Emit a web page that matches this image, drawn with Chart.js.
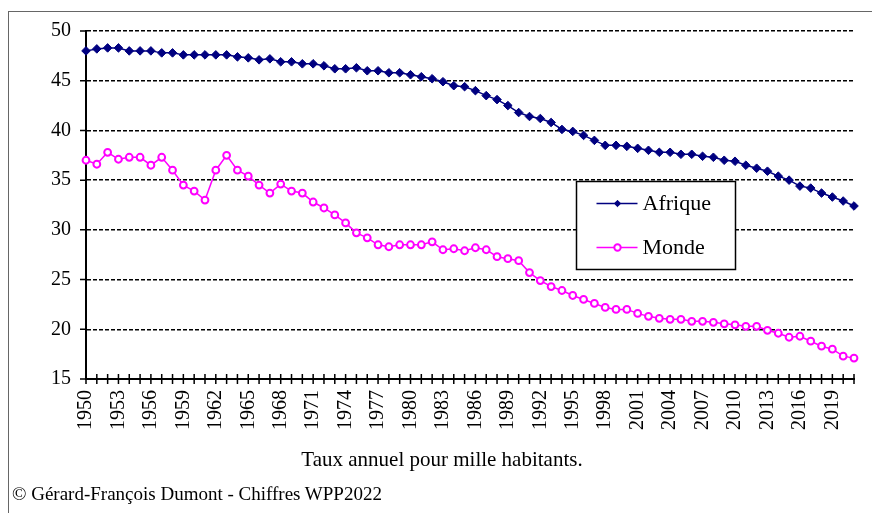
<!DOCTYPE html>
<html lang="fr">
<head>
<meta charset="utf-8">
<title>Natalité — Afrique / Monde</title>
<script src="https://cdn.jsdelivr.net/npm/chart.js@4/dist/chart.umd.min.js"></script>
<style>
  body { margin: 0; background: #fff; }
  #wrap { position: relative; width: 872px; height: 513px; overflow: hidden; font-family: 'Liberation Serif', 'Times New Roman', serif; }
  #frame { position: absolute; left: 8px; top: 11px; width: 880px; height: 520px; border-top: 1px solid #666; border-left: 1px solid #666; }
  #chart { position: absolute; left: 0; top: 0; }
  #axis-title { position: absolute; left: 442px; top: 449px; transform: translateX(-50%); font-size: 21px; line-height: 21px; white-space: nowrap; color: #000; }
  #credit { position: absolute; left: 12px; top: 484px; font-size: 19px; line-height: 19px; white-space: nowrap; color: #000; }
</style>
</head>
<body>
<div id="wrap">
  <div id="frame"></div>
  <canvas id="chart" width="872" height="513"></canvas>
  <div id="axis-title">Taux annuel pour mille habitants.</div>
  <div id="credit">© Gérard-François Dumont - Chiffres WPP2022</div>
</div>
<script>
// ── Data ──────────────────────────────────────────────────────────────────────
const YEARS = [
  '1950','1951','1952','1953','1954','1955','1956','1957','1958','1959',
  '1960','1961','1962','1963','1964','1965','1966','1967','1968','1969',
  '1970','1971','1972','1973','1974','1975','1976','1977','1978','1979',
  '1980','1981','1982','1983','1984','1985','1986','1987','1988','1989',
  '1990','1991','1992','1993','1994','1995','1996','1997','1998','1999',
  '2000','2001','2002','2003','2004','2005','2006','2007','2008','2009',
  '2010','2011','2012','2013','2014','2015','2016','2017','2018','2019',
  '2020','2021'
];

const AFRIQUE = [
  48.0, 48.2, 48.3, 48.3, 48.0, 48.0, 48.0, 47.8, 47.8, 47.6,
  47.6, 47.6, 47.6, 47.6, 47.4, 47.3, 47.1, 47.2, 46.9, 46.9,
  46.7, 46.7, 46.5, 46.2, 46.2, 46.3, 46.0, 46.0, 45.8, 45.8,
  45.6, 45.4, 45.2, 44.9, 44.5, 44.4, 44.0, 43.5, 43.1, 42.5,
  41.8, 41.4, 41.2, 40.8, 40.1, 39.9, 39.5, 39.0, 38.5, 38.5,
  38.4, 38.2, 38.0, 37.8, 37.8, 37.6, 37.6, 37.4, 37.3, 37.0,
  36.9, 36.5, 36.2, 35.9, 35.4, 35.0, 34.4, 34.2, 33.7, 33.3,
  32.9, 32.4
];

const MONDE = [
  37.0, 36.6, 37.8, 37.1, 37.3, 37.3, 36.5, 37.3, 36.0, 34.5,
  33.9, 33.0, 36.0, 37.5, 36.0, 35.4, 34.5, 33.7, 34.6, 33.9,
  33.7, 32.8, 32.2, 31.5, 30.7, 29.7, 29.2, 28.5, 28.3, 28.5,
  28.5, 28.5, 28.8, 28.0, 28.1, 27.9, 28.2, 28.0, 27.3, 27.1,
  26.9, 25.7, 24.9, 24.3, 23.9, 23.4, 23.0, 22.6, 22.2, 22.0,
  22.0, 21.6, 21.3, 21.1, 21.0, 21.0, 20.8, 20.8, 20.7, 20.55,
  20.45, 20.3, 20.3, 19.9, 19.6, 19.2, 19.3, 18.8, 18.3, 18.0,
  17.3, 17.1
];

// years printed under the axis
const TICK_YEARS = [
  '1950','1953','1956','1959','1962','1965','1968','1971','1974','1977',
  '1980','1983','1986','1989','1992','1995','1998','2001','2004','2007',
  '2010','2013','2016','2019'
];

const Y_MIN = 15, Y_MAX = 50, Y_STEP = 5;

const SERIF = "'Liberation Serif', 'Times New Roman', serif";

// ── Plugins ───────────────────────────────────────────────────────────────────
// tick marks: outside on the y axis, crossing on the x axis
const axisTicks = {
  id: 'axisTicks',
  beforeDatasetsDraw(chart) {
    const { ctx, chartArea, scales: { x, y } } = chart;
    ctx.save();
    ctx.strokeStyle = '#000';
    ctx.lineWidth = 1.5;
    ctx.beginPath();
    x.ticks.forEach((t, i) => {
      const px = x.getPixelForTick(i);
      ctx.moveTo(px, chartArea.bottom - 5);
      ctx.lineTo(px, chartArea.bottom + 5);
    });
    y.ticks.forEach((t, i) => {
      const py = y.getPixelForTick(i);
      ctx.moveTo(chartArea.left - 6, py);
      ctx.lineTo(chartArea.left, py);
    });
    ctx.stroke();
    ctx.restore();
  }
};

// boxed legend sitting inside the plot
const legendBox = {
  id: 'legendBox',
  afterDraw(chart) {
    const ctx = chart.ctx;
    const bx = 576.5, by = 181.5, bw = 159, bh = 88;
    ctx.save();
    ctx.fillStyle = '#fff';
    ctx.fillRect(bx, by, bw, bh);
    ctx.strokeStyle = '#000';
    ctx.lineWidth = 1.5;
    ctx.strokeRect(bx, by, bw, bh);

    chart.data.datasets.forEach((ds, i) => {
      const ly = by + 22 + i * 44;
      ctx.strokeStyle = ds.borderColor;
      ctx.lineWidth = ds.borderWidth;
      ctx.beginPath();
      ctx.moveTo(bx + 20, ly);
      ctx.lineTo(bx + 61, ly);
      ctx.stroke();

      ctx.fillStyle = ds.pointBackgroundColor;
      ctx.strokeStyle = ds.pointBorderColor;
      ctx.lineWidth = ds.pointBorderWidth;
      Chart.helpers.drawPoint(ctx, { pointStyle: ds.pointStyle, radius: 3.2, rotation: 0, borderWidth: ds.pointBorderWidth }, bx + 41, ly);

      ctx.fillStyle = '#000';
      ctx.font = '22px ' + SERIF;
      ctx.textBaseline = 'middle';
      ctx.textAlign = 'left';
      ctx.fillText(ds.label, bx + 66, ly + 1);
    });
    ctx.restore();
  }
};

// ── Chart ─────────────────────────────────────────────────────────────────────
new Chart(document.getElementById('chart'), {
  type: 'line',
  data: {
    labels: YEARS,
    datasets: [
      {
        label: 'Afrique',
        data: AFRIQUE,
        borderColor: '#000080',
        borderWidth: 1.5,
        pointStyle: 'rectRot',
        pointRadius: 4.3,
        pointBackgroundColor: '#000080',
        pointBorderColor: '#000080',
        pointBorderWidth: 1,
        tension: 0,
      },
      {
        label: 'Monde',
        data: MONDE,
        borderColor: '#ff00ff',
        borderWidth: 1.5,
        pointStyle: 'circle',
        pointRadius: 3.4,
        pointBackgroundColor: '#ffffff',
        pointBorderColor: '#ff00ff',
        pointBorderWidth: 2,
        tension: 0,
      },
    ],
  },
  options: {
    responsive: false,
    animation: false,
    devicePixelRatio: 1,
    layout: { padding: { top: 31, right: 18, left: 0, bottom: 0 } },
    plugins: {
      legend: { display: false },
      tooltip: { enabled: false },
    },
    scales: {
      x: {
        type: 'category',
        offset: false,
        grid: { display: false, drawTicks: false },
        border: { display: true, color: '#000', width: 2 },
        ticks: {
          autoSkip: false,
          maxRotation: 90,
          minRotation: 90,
          padding: 11,
          color: '#000',
          font: { family: SERIF, size: 20 },
          callback(val) {
            const lab = this.getLabelForValue(val);
            return TICK_YEARS.includes(lab) ? lab : '';
          },
        },
        afterFit(scale) {
          scale.height = 513 - 379;
          scale.paddingLeft = 0;
          scale.paddingRight = 0;
        },
      },
      y: {
        min: Y_MIN,
        max: Y_MAX,
        grid: {
          drawTicks: false,
          color: ctx => (ctx.tick && ctx.tick.value === Y_MIN ? 'rgba(0,0,0,0)' : '#000'),
          lineWidth: 1.5,
        },
        border: { display: true, color: '#000', width: 2, dash: [4, 2] },
        ticks: {
          stepSize: Y_STEP,
          padding: 15,
          color: '#000',
          font: { family: SERIF, size: 20 },
        },
        afterFit(scale) { scale.width = 86; },
      },
    },
  },
  plugins: [axisTicks, legendBox],
});
</script>
</body>
</html>
